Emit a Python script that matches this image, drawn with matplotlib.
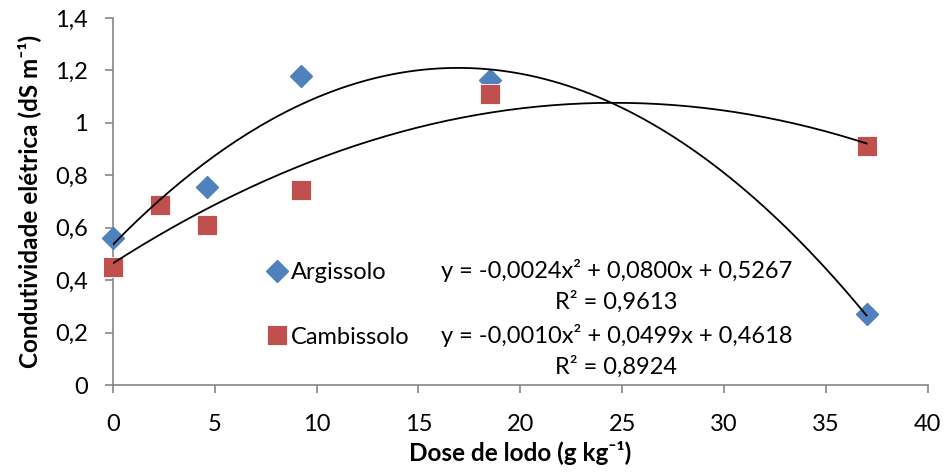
import numpy as np
import matplotlib
matplotlib.use("Agg")
import matplotlib.pyplot as plt

plt.rcParams['font.family'] = ['Lato', 'DejaVu Sans']

# doses de lodo (g kg-1) e condutividade elétrica (dS m-1)
dose_arg = [0, 4.625, 9.25, 18.5, 37]
ce_arg = [0.56, 0.755, 1.18, 1.165, 0.27]
dose_camb = [0, 2.3125, 4.625, 9.25, 18.5, 37]
ce_camb = [0.45, 0.685, 0.61, 0.745, 1.11, 0.91]

eq_linhas = ["y = -0,0024x² + 0,0800x + 0,5267", "R² = 0,9613",
             "y = -0,0010x² + 0,0499x + 0,4618", "R² = 0,8924"]

azul = '#4F81BD'
vermelho = '#C0504D'
cinza = '#868686'

fig = plt.figure(figsize=(9.45, 4.72), dpi=100)
ax = fig.add_axes([0.1196, 0.184, 0.862, 0.778])

# linhas de tendência polinomiais de 2a ordem
xs = np.linspace(0, 37, 200)
for x, y in [(dose_arg, ce_arg), (dose_camb, ce_camb)]:
  coef = np.polyfit(x, y, 2)
  ax.plot(xs, np.polyval(coef, xs), color='black', lw=1.3, zorder=4)

ax.plot(dose_arg, ce_arg, 'D', color=azul, ms=11, mec=azul, label='Argissolo', zorder=3, clip_on=False)
ax.plot(dose_camb, ce_camb, 's', color=vermelho, ms=15, mec='white', mew=0.6, label='Cambissolo',
        zorder=3, clip_on=False)

ax.set_xlim(0, 40)
ax.set_ylim(0, 1.4)
ax.set_xticks(range(0, 41, 5))
ax.set_yticks(np.arange(0, 1.41, 0.2))
ax.set_yticklabels(['0', '0,2', '0,4', '0,6', '0,8', '1', '1,2', '1,4'])
ax.tick_params(labelsize=17, colors=cinza, labelcolor='black', length=6, width=1.2, pad=12)
ax.tick_params(axis='x', pad=15)
for s in ['top', 'right']:
  ax.spines[s].set_visible(False)
for s in ['left', 'bottom']:
  ax.spines[s].set_color(cinza)
  ax.spines[s].set_linewidth(1.2)

ax.set_xlabel('Dose de lodo (g kg⁻¹)', fontsize=17.5, fontweight='bold', labelpad=4)
ax.set_ylabel('Condutividade elétrica (dS m⁻¹)', fontsize=17.5, fontweight='bold', labelpad=10)

ax.legend(loc='upper left', bbox_to_anchor=(0.172, 0.368), frameon=False, fontsize=17,
          handletextpad=0.1, labelspacing=1.85, borderpad=0, handlelength=1.0)

for linha, yy in zip(eq_linhas, [0.313, 0.226, 0.136, 0.049]):
  ax.text(0.618, yy, linha, transform=ax.transAxes, ha='center', va='center', fontsize=17)

fig.savefig('out.png', dpi=100)
